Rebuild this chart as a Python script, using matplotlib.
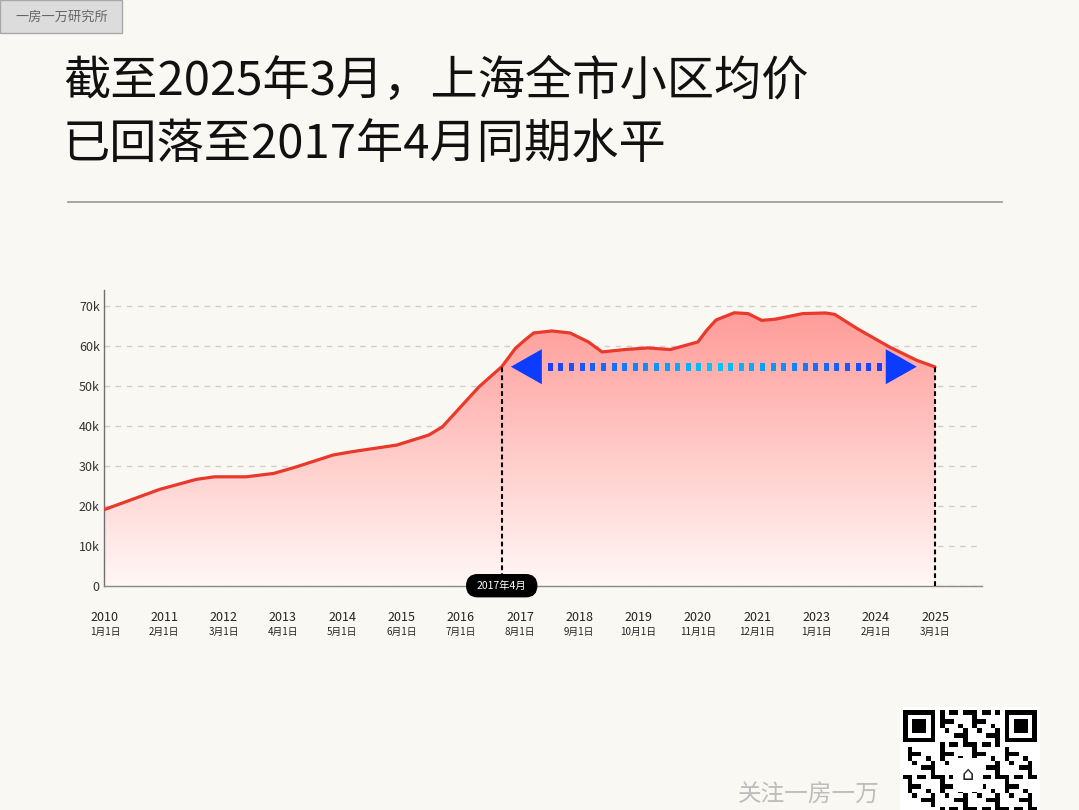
import matplotlib.pyplot as plt
import numpy as np
from matplotlib.colors import LinearSegmentedColormap
from matplotlib.patches import Rectangle, Polygon, FancyBboxPatch
from matplotlib.transforms import IdentityTransform

plt.rcParams['font.family'] = ['Noto Sans CJK SC', 'DejaVu Sans']

# 上海全市小区均价 (元/平)
months = ["2010-01", "2011-01", "2011-09", "2012-01", "2012-08", "2013-02",
          "2013-07", "2014-03", "2014-07", "2015-05", "2015-12", "2016-03",
          "2016-07", "2016-11", "2017-04", "2017-07", "2017-09", "2017-11",
          "2018-03", "2018-07", "2018-11", "2019-02", "2019-07", "2019-12",
          "2020-05", "2020-11", "2021-01", "2021-03", "2021-07", "2021-10",
          "2022-01", "2022-04", "2022-10", "2023-03", "2023-05", "2023-10",
          "2024-05", "2024-11", "2025-03"]
prices = [19100, 24100, 26600, 27250, 27250, 28100,
          29750, 32700, 33500, 35200, 37700, 39750,
          44750, 49750, 54800, 59400, 61400, 63250,
          63750, 63250, 61000, 58500, 59100, 59500,
          59100, 61000, 64000, 66500, 68300, 68100,
          66400, 66700, 68100, 68250, 67900, 64300,
          59750, 56400, 54750]

tick_months = ["2010-01", "2011-02", "2012-03", "2013-04", "2014-05", "2015-06",
               "2016-07", "2017-08", "2018-09", "2019-10", "2020-11", "2021-12",
               "2023-01", "2024-02", "2025-03"]
tick_years = ["2010", "2011", "2012", "2013", "2014", "2015", "2016", "2017",
              "2018", "2019", "2020", "2021", "2023", "2024", "2025"]
tick_dates = ["1月1日", "2月1日", "3月1日", "4月1日", "5月1日", "6月1日", "7月1日",
              "8月1日", "9月1日", "10月1日", "11月1日", "12月1日", "1月1日",
              "2月1日", "3月1日"]

mark_month = "2017-04"
end_month = "2025-03"
mark_level = 54800
arrow_from = "2017-06"
arrow_to = "2024-11"

title_1 = "截至2025年3月，上海全市小区均价"
title_2 = "已回落至2017年4月同期水平"


def month_index(s):
    y, m = s.split("-")
    return (int(y) - 2010) * 12 + int(m) - 1


W, H = 1079, 810
bg = "#faf8f3"

fig = plt.figure(figsize=(W / 100, H / 100), dpi=100, facecolor=bg)


def fx(px):
    return px / W


def fy(py):
    return 1 - py / H


ax = fig.add_axes([fx(104), fy(585.7), (982 - 104) / W, (585.7 - 290) / H])
ax.set_facecolor(bg)

x = np.array([month_index(m) for m in months])
y = np.array(prices)

ax.set_xlim(-0.2, 192.3)
ax.set_ylim(0, 74000)

# gradient fill under the curve
poly = ax.fill_between(x, y, 0, color="none", lw=0)
cmap = LinearSegmentedColormap.from_list("fill", ["#fff8f6", "#ff9c99"])
grad = np.linspace(0, 1, 256).reshape(-1, 1)
im = ax.imshow(grad, extent=[x.min(), x.max(), 0, y.max()], origin="lower",
               aspect="auto", cmap=cmap, zorder=1)
im.set_clip_path(poly.get_paths()[0], transform=ax.transData)
ax.set_xlim(-0.2, 192.3)
ax.set_ylim(0, 74000)

ax.plot(x, y, color="#e8392b", lw=2.3, solid_joinstyle="round",
        solid_capstyle="round", zorder=4)

# grid and axes
ax.set_yticks(range(0, 70001, 10000))
ax.set_yticklabels(["0", "10k", "20k", "30k", "40k", "50k", "60k", "70k"])
ax.yaxis.grid(True, color="#cfcfcf", ls=(0, (4, 4)), lw=1)
ax.set_axisbelow(True)
ax.tick_params(axis="y", length=0, pad=3, labelsize=9, labelcolor="#333333")
ax.set_xticks([])
for s in ["top", "right"]:
    ax.spines[s].set_visible(False)
ax.spines["left"].set_color("#707070")
ax.spines["bottom"].set_color("#8a8a8a")
ax.spines["left"].set_linewidth(1)
ax.spines["bottom"].set_linewidth(1)

for m, yr, d in zip(tick_months, tick_years, tick_dates):
    xi = month_index(m)
    ax.text(xi, -0.109, yr, transform=ax.get_xaxis_transform(), ha="center",
            va="center", fontsize=9, color="#222222")
    ax.text(xi, -0.157, d, transform=ax.get_xaxis_transform(), ha="center",
            va="center", fontsize=7, color="#222222")

# dashed drop lines
for m in [mark_month, end_month]:
    xi = month_index(m)
    yi = y[list(months).index(m)]
    ax.plot([xi, xi], [0, yi], color="black", lw=1.5, ls=(0, (2.3, 1.5)),
            zorder=5)

# badge at 2017年4月
cx, cy = ax.transData.transform((month_index(mark_month), 0))
badge = FancyBboxPatch((cx - 35, cy - 11), 70, 22,
                       boxstyle="round,pad=0,rounding_size=11",
                       fc="black", ec="black", transform=IdentityTransform(),
                       zorder=6)
fig.add_artist(badge)
fig.text(fx(cx), cy / H, "2017年4月", color="white", fontsize=7.5,
         ha="center", va="center", zorder=7)

# double arrow
lx, ly = ax.transData.transform((month_index(arrow_from), mark_level))
rx, ry = ax.transData.transform((month_index(arrow_to), mark_level))
head_w, head_h = 31, 35
arrow_col = "#0b3cff"
fig.add_artist(Polygon([(lx, ly), (lx + head_w, ly + head_h / 2),
                        (lx + head_w, ly - head_h / 2)], closed=True,
                       fc=arrow_col, ec="none", transform=IdentityTransform(),
                       zorder=6))
fig.add_artist(Polygon([(rx, ry), (rx - head_w, ry + head_h / 2),
                        (rx - head_w, ry - head_h / 2)], closed=True,
                       fc=arrow_col, ec="none", transform=IdentityTransform(),
                       zorder=6))
n_dots = 32
c_end = np.array([30, 60, 255]) / 255
c_mid = np.array([0, 200, 255]) / 255
xs = np.linspace(lx + head_w + 6 + 2.5, rx - head_w - 4 - 2.5, n_dots)
for i, xd in enumerate(xs):
    t = 1 - abs(i - (n_dots - 1) / 2) / ((n_dots - 1) / 2)
    col = c_end + (c_mid - c_end) * t
    fig.add_artist(Rectangle((xd - 2.5, ly - 4), 5, 8, fc=col, ec="none",
                             transform=IdentityTransform(), zorder=6))

# title
fig.text(fx(63), fy(82), title_1, fontsize=34, fontweight="medium",
         color="#111111", ha="left", va="center")
fig.text(fx(63), fy(145), title_2, fontsize=34, fontweight="medium",
         color="#111111", ha="left", va="center")
fig.add_artist(plt.Line2D([fx(68), fx(1002)], [fy(202), fy(202)],
                          color="#a0a0a0", lw=1.3))

# top-left tag
fig.add_artist(Rectangle((fx(0), fy(33)), fx(122), 33 / H, fc="#dcdcdc",
                         ec="#a8a8a8", lw=1, transform=fig.transFigure))
fig.text(fx(62), fy(17), "一房一万研究所", fontsize=9.5, color="#666666",
         ha="center", va="center")

# footer
fig.text(fx(738), fy(807), "关注一房一万", fontsize=17, color="#bdbdbd",
         ha="left", va="bottom")

# QR-like block
qx, qy, mod, n = 903, 710, 4.62, 29
fig.add_artist(Rectangle((fx(qx - 3), fy(qy + n * mod)), (n * mod + 6) / W,
                         (n * mod + 3) / H, fc="white", ec="none",
                         transform=fig.transFigure))


def finder(px, py):
    for size, colr in [(7, "black"), (5, "white"), (3, "black")]:
        off = (7 - size) / 2 * mod
        fig.add_artist(Rectangle((fx(px + off), fy(py + off + size * mod)),
                                 size * mod / W, size * mod / H, fc=colr,
                                 ec="none", transform=fig.transFigure))


for i in range(n):
    for j in range(n):
        in_finder = (i < 8 and j < 8) or (i < 8 and j > n - 9) or (i > n - 9 and j < 8)
        if in_finder:
            continue
        if (i * i * 3 + j * 7 + i * j * 5 + j * j) % 7 < 3:
            fig.add_artist(Rectangle((fx(qx + j * mod), fy(qy + (i + 1) * mod)),
                                     mod / W, mod / H, fc="black", ec="none",
                                     transform=fig.transFigure))
finder(qx, qy)
finder(qx + (n - 7) * mod, qy)
finder(qx, qy + (n - 7) * mod)
fig.add_artist(FancyBboxPatch((fx(953), fy(792)), 30 / W, 34 / H,
                              boxstyle="round,pad=0,rounding_size=0.005",
                              fc="white", ec="none", transform=fig.transFigure))
fig.text(fx(968), fy(775), "⌂", fontsize=14, color="#222222", ha="center",
         va="center")

fig.savefig("out.png", dpi=100, facecolor=bg)
